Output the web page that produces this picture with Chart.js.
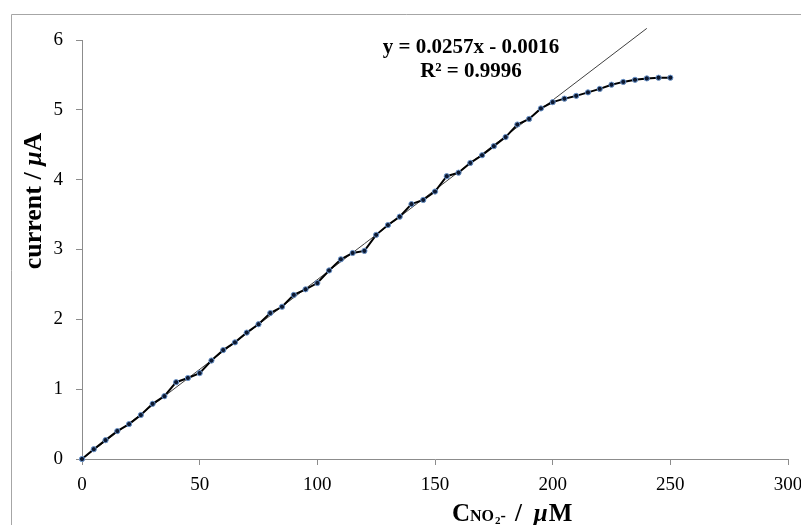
<!DOCTYPE html>
<html>
<head>
<meta charset="utf-8">
<script src="https://cdn.jsdelivr.net/npm/chart.js@4"></script>
<style>
  html, body { margin: 0; padding: 0; background: #fff; }
  #wrap { width: 801px; height: 525px; position: relative; }
</style>
</head>
<body>
<div id="wrap"><canvas id="c" width="801" height="525"></canvas></div>
<script>
// ---- data ----
const concentrations = [0,5,10,15,20,25,30,35,40,45,50,55,60,65,70,75,80,85,90,95,100,
  105,110,115,120,125,130,135,140,145,150,155,160,165,170,175,180,185,190,195,200,
  205,210,215,220,225,230,235,240,245,250];
const currents = [0,0.14,0.27,0.40,0.50,0.63,0.79,0.90,1.10,1.16,1.23,1.41,1.56,1.67,1.81,1.93,2.09,2.18,2.35,2.43,2.52,
  2.70,2.86,2.95,2.98,3.21,3.35,3.47,3.65,3.71,3.83,4.05,4.10,4.24,4.35,4.48,4.61,4.79,4.87,5.02,5.11,
  5.16,5.20,5.25,5.30,5.36,5.40,5.43,5.45,5.46,5.46];
const trendX = [0, 240];
const trendY = [-0.0016, 6.1664];
const xTicks = [0, 50, 100, 150, 200, 250, 300];
const yTicks = [0, 1, 2, 3, 4, 5, 6];
const equationText = 'y = 0.0257x - 0.0016';
const r2Text = 'R\u00B2 = 0.9996';

const serif = '"Liberation Serif", "Times New Roman", serif';

const points = concentrations.map((x, i) => ({x: x, y: currents[i]}));
const trend = trendX.map((x, i) => ({x: x, y: trendY[i]}));

const decor = {
  id: 'decor',
  beforeDraw(chart) {
    const ctx = chart.ctx;
    ctx.save();
    ctx.fillStyle = '#fff';
    ctx.fillRect(0, 0, chart.width, chart.height);
    ctx.strokeStyle = '#a6a6a6';
    ctx.lineWidth = 1;
    ctx.beginPath();
    ctx.moveTo(11.5, 530);
    ctx.lineTo(11.5, 14.5);
    ctx.lineTo(810, 14.5);
    ctx.stroke();
    ctx.restore();
  },
  afterDraw(chart) {
    const ctx = chart.ctx;
    ctx.save();
    ctx.fillStyle = '#000';
    // equation
    ctx.textAlign = 'center';
    ctx.textBaseline = 'middle';
    ctx.font = 'bold 21px ' + serif;
    ctx.fillText(equationText, 471, 48);
    ctx.fillText(r2Text, 471, 72);
    // y title
    ctx.save();
    ctx.translate(34, 201);
    ctx.rotate(-Math.PI / 2);
    ctx.textBaseline = 'middle';
    ctx.textAlign = 'left';
    const p1 = 'current / ';
    const p2 = '\u03BC';
    const p3 = 'A';
    ctx.font = 'bold 26px ' + serif;
    const w1 = ctx.measureText(p1).width;
    const w3 = ctx.measureText(p3).width;
    ctx.font = 'italic bold 26px ' + serif;
    const w2 = ctx.measureText(p2).width;
    let x = -(w1 + w2 + w3) / 2;
    ctx.font = 'bold 26px ' + serif;
    ctx.fillText(p1, x, 0); x += w1;
    ctx.font = 'italic bold 26px ' + serif;
    ctx.fillText(p2, x, 0); x += w2;
    ctx.font = 'bold 26px ' + serif;
    ctx.fillText(p3, x, 0);
    ctx.restore();
    // x title
    ctx.textAlign = 'left';
    ctx.textBaseline = 'alphabetic';
    let xx = 452;
    const base = 521;
    const parts = [
      ['C', 'bold 25px ', 0, 0],
      ['NO', 'bold 16px ', 0, 1],
      ['2', 'bold 11px ', 3, 0],
      ['-', 'bold 16px ', 0, 9],
      ['/', 'bold 25px ', 0, 12],
      ['\u03BC', 'italic bold 25px ', 0, 1],
      ['M', 'bold 25px ', 0, 0]
    ];
    for (const [t, f, dy, gap] of parts) {
      ctx.font = f + serif;
      ctx.fillText(t, xx, base + dy);
      xx += ctx.measureText(t).width + gap;
    }
    ctx.restore();
  }
};

new Chart(document.getElementById('c'), {
  type: 'scatter',
  data: {
    datasets: [
      {
        label: 'trend',
        data: trend,
        showLine: true,
        borderColor: '#404040',
        borderWidth: 1,
        pointRadius: 0,
        fill: false,
        clip: false,
        order: 2
      },
      {
        label: 'current',
        data: points,
        showLine: true,
        borderColor: '#000',
        borderWidth: 2,
        pointRadius: 2.6,
        pointBorderWidth: 1,
        pointBackgroundColor: '#0c1830',
        pointBorderColor: '#6b95cc',
        fill: false,
        clip: false,
        order: 1
      }
    ]
  },
  options: {
    responsive: false,
    animation: false,
    devicePixelRatio: 1,
    layout: { padding: { top: 40, right: 13, left: 0, bottom: 0 } },
    plugins: { legend: { display: false }, tooltip: { enabled: false } },
    scales: {
      x: {
        type: 'linear',
        min: 0, max: 300,
        afterBuildTicks(scale) { scale.ticks = xTicks.map(v => ({value: v})); },
        afterFit(scale) { scale.height = 66; scale.paddingRight = 0; scale.paddingLeft = 0; },
        grid: { drawOnChartArea: false, drawTicks: true, tickLength: 6, color: '#8c8c8c' },
        border: { display: true, color: '#8c8c8c', width: 1 },
        ticks: { color: '#000', padding: 9, font: { family: serif, size: 19 }, maxRotation: 0 }
      },
      y: {
        type: 'linear',
        min: 0, max: 6,
        afterBuildTicks(scale) { scale.ticks = yTicks.map(v => ({value: v})); },
        afterFit(scale) { scale.width = 82; scale.paddingTop = 0; scale.paddingBottom = 0; },
        grid: { drawOnChartArea: false, drawTicks: true, tickLength: 6, color: '#8c8c8c' },
        border: { display: true, color: '#8c8c8c', width: 1 },
        ticks: { color: '#000', padding: 13, font: { family: serif, size: 19 } }
      }
    }
  },
  plugins: [decor]
});
</script>
</body>
</html>
